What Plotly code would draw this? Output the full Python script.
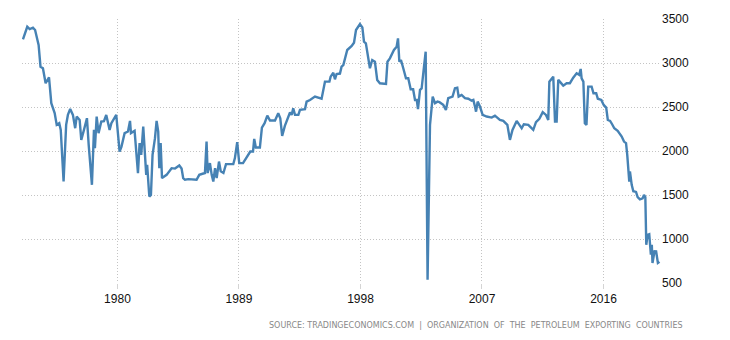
import plotly.graph_objects as go

# Decimal year of each reading, and value (thousand barrels per day)
years = [
    1973.0, 1973.32, 1973.5, 1973.74, 1973.9, 1974.16, 1974.3, 1974.48, 1974.68, 1974.93,
    1975.1, 1975.35, 1975.5, 1975.69, 1975.8, 1976.01, 1976.2, 1976.33, 1976.5, 1976.7,
    1976.87, 1976.98, 1977.2, 1977.32, 1977.52, 1977.74, 1977.87, 1978.11, 1978.26, 1978.33,
    1978.46, 1978.6, 1978.8, 1979.0, 1979.17, 1979.42, 1979.55, 1979.91, 1980.16, 1980.3,
    1980.53, 1980.78, 1980.93, 1981.0, 1981.27, 1981.52, 1981.64, 1981.76, 1981.91, 1982.13,
    1982.2, 1982.36, 1982.48, 1982.6, 1982.78, 1982.9, 1983.02, 1983.1, 1983.2, 1983.3,
    1983.64, 1984.01, 1984.26, 1984.58, 1984.75, 1984.87, 1985.0, 1985.25, 1985.86, 1986.06,
    1986.48, 1986.6, 1986.68, 1986.85, 1986.98, 1987.1, 1987.23, 1987.35, 1987.52, 1987.65,
    1987.85, 1988.04, 1988.58, 1988.7, 1988.87, 1989.02, 1989.3, 1989.5, 1989.67, 1989.84,
    1990.04, 1990.13, 1990.25, 1990.55, 1990.7, 1990.9, 1991.1, 1991.3, 1991.67, 1991.91,
    1992.06, 1992.2, 1992.4, 1992.78, 1992.9, 1993.02, 1993.15, 1993.4, 1993.52, 1993.89,
    1994.01, 1994.26, 1994.63, 1994.88, 1995.12, 1995.37, 1995.7, 1995.79, 1995.99, 1996.11,
    1996.23, 1996.48, 1996.6, 1996.73, 1997.02, 1997.35, 1997.52, 1997.67, 1997.96, 1998.14,
    1998.26, 1998.4, 1998.7, 1998.87, 1999.07, 1999.24, 1999.44, 1999.89, 2000.0, 2000.18,
    2000.48, 2000.68, 2000.78, 2000.88, 2001.0, 2001.17, 2001.37, 2001.54, 2001.72, 2001.9,
    2002.04, 2002.17, 2002.26, 2002.41, 2002.53, 2002.7, 2002.83, 2002.97, 2003.15, 2003.35,
    2003.52, 2003.7, 2003.85, 2004.13, 2004.33, 2004.5, 2004.82, 2005.0, 2005.17, 2005.27,
    2005.49, 2005.74, 2005.99, 2006.23, 2006.36, 2006.48, 2006.56, 2006.68, 2006.85, 2007.05,
    2007.35, 2007.72, 2007.96, 2008.33, 2008.58, 2008.88, 2009.07, 2009.26, 2009.44, 2009.57,
    2009.77, 2009.94, 2010.1, 2010.43, 2010.8, 2011.0, 2011.25, 2011.5, 2011.74, 2011.91,
    2011.99, 2012.16, 2012.28, 2012.41, 2012.53, 2012.65, 2012.77, 2013.02, 2013.27, 2013.51,
    2013.76, 2014.01, 2014.2, 2014.31, 2014.38, 2014.51, 2014.62, 2014.74, 2014.87, 2015.12,
    2015.26, 2015.46, 2015.58, 2015.84, 2016.01, 2016.2, 2016.32, 2016.49, 2016.64, 2016.8,
    2017.05, 2017.35, 2017.52, 2017.67, 2017.76, 2017.91, 2017.96, 2018.09, 2018.21, 2018.41,
    2018.53, 2018.7, 2018.9, 2019.0, 2019.1, 2019.17, 2019.27, 2019.39, 2019.51, 2019.58,
    2019.63, 2019.78, 2019.9, 2020.03, 2020.15,
]
production = [
    3269, 3412, 3386, 3401, 3375, 3205, 2958, 2940, 2770, 2838,
    2543, 2430, 2297, 2316, 2240, 1653, 2297, 2410, 2478, 2410,
    2259, 2391, 2353, 2126, 2240, 2373, 2070, 1616, 2240, 2032,
    2391, 2203, 2334, 2340, 2410, 2240, 2316, 2410, 1994, 2050,
    2203, 2221, 2342, 2203, 2229, 1749, 2089, 1956, 2277, 1729,
    1843, 1483, 1500, 1956, 2146, 2342, 2221, 1805, 2089, 1692,
    1729, 1805, 1800, 1835, 1800, 1692, 1673, 1680, 1673, 1729,
    1750, 2107, 1749, 1862, 1729, 1653, 1805, 1692, 1880, 1769,
    1750, 1851, 1851, 1919, 2100, 1862, 1862, 1910, 1956, 1994,
    1994, 2138, 2040, 2040, 2266, 2316, 2402, 2346, 2346, 2430,
    2373, 2172, 2285, 2437, 2410, 2486, 2410, 2410, 2467, 2475,
    2561, 2580, 2618, 2610, 2595, 2788, 2788, 2845, 2890, 2815,
    2875, 2880, 2958, 2977, 3148, 3193, 3231, 3375, 3443, 3405,
    3242, 3224, 2940, 3034, 3015, 2808, 2770, 2762, 3015, 3053,
    3148, 3186, 3280, 3015, 3034, 2940, 2827, 2827, 2702, 2702,
    2580, 2580, 2475, 2694, 2710, 2950, 3129, 537, 2297, 2618,
    2543, 2561, 2555, 2524, 2467, 2600, 2618, 2713, 2720, 2618,
    2637, 2600, 2594, 2572, 2580, 2505, 2447, 2561, 2505, 2410,
    2392, 2380, 2402, 2353, 2342, 2297, 2126, 2240, 2297, 2342,
    2297, 2259, 2304, 2297, 2240, 2327, 2365, 2441, 2410, 2353,
    2788, 2826, 2845, 2334, 2334, 2808, 2788, 2743, 2770, 2770,
    2833, 2883, 2865, 2932, 2826, 2788, 2316, 2297, 2732, 2732,
    2656, 2656, 2594, 2580, 2524, 2493, 2353, 2342, 2304, 2259,
    2229, 2164, 2107, 2089, 1956, 1653, 1767, 1616, 1543, 1535,
    1477, 1451, 1462, 1502, 1477, 935, 1048, 1055, 821, 935,
    727, 860, 859, 727, 740,
]

x_ticks = [1980, 1989, 1998, 2007, 2016]
x_tick_labels = ["1980", "1989", "1998", "2007", "2016"]
y_ticks = [500, 1000, 1500, 2000, 2500, 3000, 3500]
y_tick_labels = ["500", "1000", "1500", "2000", "2500", "3000", "3500"]

source_text = "SOURCE: TRADINGECONOMICS.COM  |  ORGANIZATION  OF  THE  PETROLEUM  EXPORTING  COUNTRIES"

fig = go.Figure()
fig.add_trace(go.Scatter(
    x=years, y=production, mode="lines",
    line=dict(color="#4682b4", width=2.4),
    hoverinfo="x+y",
))

fig.update_layout(
    width=730, height=340,
    margin=dict(l=22, r=69, t=19, b=57),
    paper_bgcolor="white", plot_bgcolor="white",
    showlegend=False,
    font=dict(family="Liberation Sans, Arial, sans-serif", size=12, color="#111"),
    xaxis=dict(
        range=[1972.93, 2020.26],
        tickvals=x_ticks, ticktext=x_tick_labels,
        showgrid=True, gridcolor="#c4c4c4", griddash="1px,2px", gridwidth=1,
        zeroline=False, showline=False,
        ticks="outside", ticklen=5, tickcolor="#d4d4d4",
        tickfont=dict(size=12, color="#111"),
    ),
    yaxis=dict(
        range=[500, 3500], side="right",
        tickvals=y_ticks, ticktext=y_tick_labels,
        showgrid=True, gridcolor="#c4c4c4", griddash="1px,2px", gridwidth=1,
        zeroline=False, showline=False, ticks="",
        tickfont=dict(size=12, color="#111"),
    ),
    annotations=[dict(
        text=source_text, xref="paper", yref="paper",
        x=(685 - 22) / (730 - 22 - 69), y=(340 - 57 - 325) / (340 - 19 - 57),
        xanchor="right", yanchor="middle", showarrow=False,
        font=dict(family="DejaVu Sans, sans-serif", size=8, color="#888"),
    )],
)

fig.write_html("out.html")
